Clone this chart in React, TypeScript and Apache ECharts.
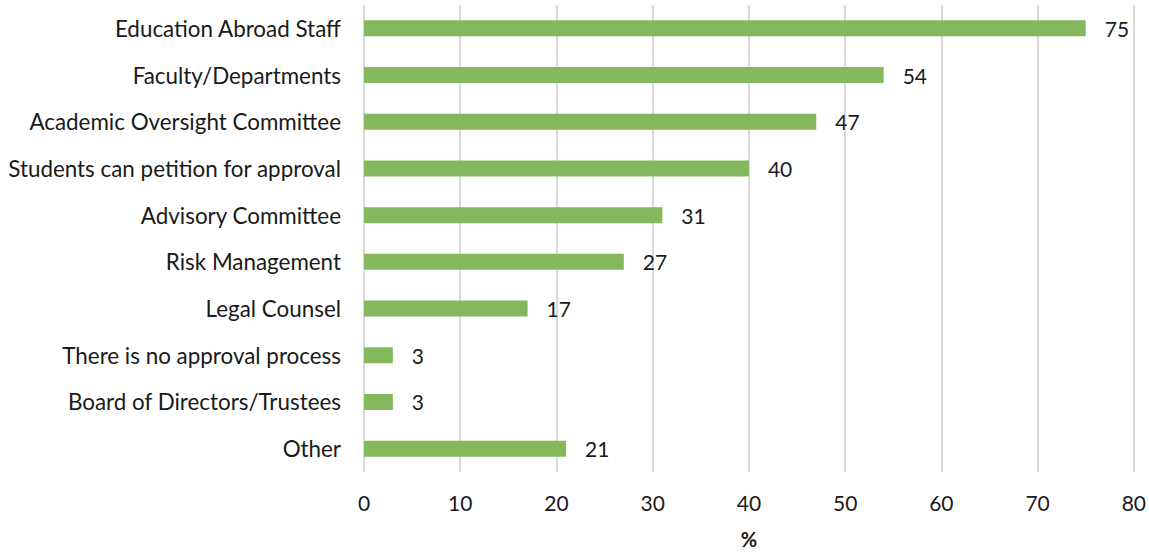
import React, { useEffect, useRef } from "react";
import * as echarts from "echarts";

const categories = [
  "Education Abroad Staff",
  "Faculty/Departments",
  "Academic Oversight Committee",
  "Students can petition for approval",
  "Advisory Committee",
  "Risk Management",
  "Legal Counsel",
  "There is no approval process",
  "Board of Directors/Trustees",
  "Other",
];
const values = [75, 54, 47, 40, 31, 27, 17, 3, 3, 21];
const axisTitle = "%";

const FONT = "Lato";

export default function App() {
  const ref = useRef<HTMLDivElement>(null);
  useEffect(() => {
    if (!ref.current) return;
    const chart = echarts.init(ref.current, undefined, { renderer: "svg" });
    chart.setOption({
      animation: false,
      grid: { left: 364, right: 15, top: 5, bottom: 79, containLabel: false },
      xAxis: {
        type: "value",
        min: 0,
        max: 80,
        interval: 10,
        name: axisTitle,
        nameLocation: "middle",
        nameGap: 57,
        nameTextStyle: { fontFamily: FONT, fontSize: 20, fontWeight: "bold", color: "#1a1a1a" },
        axisLine: { show: false },
        axisTick: { show: false },
        axisLabel: { fontFamily: FONT, fontSize: 21, color: "#1a1a1a", margin: 20 },
        splitLine: { show: true, lineStyle: { color: "#d9d9d9", width: 2 } },
      },
      yAxis: {
        type: "category",
        data: categories,
        inverse: true,
        axisLine: { show: false },
        axisTick: { show: false },
        axisLabel: { fontFamily: FONT, fontSize: 22.4, color: "#1a1a1a", margin: 23 },
      },
      series: [
        {
          type: "bar",
          data: values,
          barWidth: 16,
          itemStyle: { color: "#83B85C" },
          label: {
            show: true,
            position: "right",
            distance: 19,
            fontFamily: FONT,
            fontSize: 21,
            color: "#1a1a1a",
          },
        },
      ],
    });
    return () => chart.dispose();
  }, []);
  return (
    <div
      ref={ref}
      style={{ position: "absolute", left: 0, top: 0, width: 1149, height: 554 }}
    />
  );
}
